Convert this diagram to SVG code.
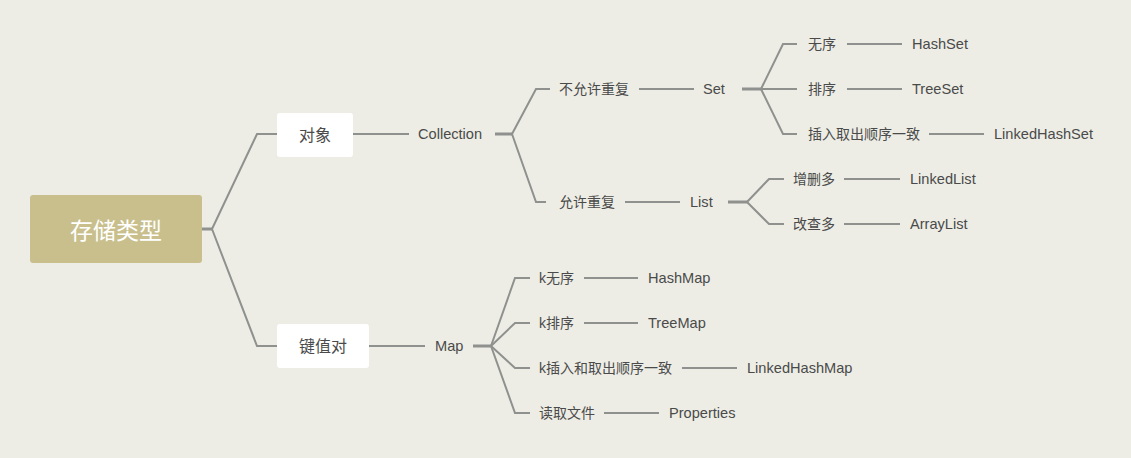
<svg xmlns="http://www.w3.org/2000/svg" width="1131" height="458" viewBox="0 0 1131 458">
<style>
.t{font-family:"Liberation Sans","Noto Sans CJK SC",sans-serif;font-size:14px;fill:#4a4a4a;dominant-baseline:central}
.e{font-size:14.6px}
.b{font-size:16px;text-anchor:middle}
.r{font-family:"Noto Sans CJK SC",sans-serif;font-size:23px;fill:#ffffff;text-anchor:middle;dominant-baseline:central}
.l{fill:none;stroke:#8f918e;stroke-width:2;stroke-linejoin:miter}
.s{fill:none;stroke:#8f918e;stroke-width:3}
</style>
<rect width="1131" height="458" fill="#ededE5"/>
<g id="connectors">
<line class="s" x1="202" y1="229" x2="213" y2="229"/>
<polyline class="l" points="212,229 257,134 277,134"/>
<polyline class="l" points="212,229 257,346 277,346"/>
<line class="l" x1="353" y1="134" x2="409" y2="134"/>
<line class="l" x1="369" y1="346" x2="425" y2="346"/>
<line class="s" x1="495" y1="134" x2="513" y2="134"/>
<polyline class="l" points="512,134 536,89 550,89"/>
<polyline class="l" points="512,134 536,202 546,202"/>
<line class="l" x1="639" y1="89" x2="694" y2="89"/>
<line class="l" x1="625" y1="202" x2="680" y2="202"/>
<line class="s" x1="742" y1="89" x2="762" y2="89"/>
<polyline class="l" points="761,89 783,44 797,44"/>
<line class="l" x1="761" y1="89" x2="797" y2="89"/>
<polyline class="l" points="761,89 783,134 797,134"/>
<line class="l" x1="847" y1="44" x2="902" y2="44"/>
<line class="l" x1="847" y1="89" x2="902" y2="89"/>
<line class="l" x1="929" y1="134" x2="984" y2="134"/>
<line class="s" x1="728" y1="202" x2="748" y2="202"/>
<polyline class="l" points="747,202 769,179 784,179"/>
<polyline class="l" points="747,202 769,224 784,224"/>
<line class="l" x1="844" y1="179" x2="900" y2="179"/>
<line class="l" x1="844" y1="224" x2="900" y2="224"/>
<line class="s" x1="473" y1="346" x2="492" y2="346"/>
<polyline class="l" points="491,346 515,278 530,278"/>
<polyline class="l" points="491,346 515,323 530,323"/>
<polyline class="l" points="491,346 515,368 530,368"/>
<polyline class="l" points="491,346 515,413 530,413"/>
<line class="l" x1="584" y1="278" x2="638" y2="278"/>
<line class="l" x1="584" y1="323" x2="638" y2="323"/>
<line class="l" x1="682" y1="368" x2="737" y2="368"/>
<line class="l" x1="604" y1="413" x2="659" y2="413"/>
</g>
<g id="root"><rect x="30" y="195" width="172" height="68" rx="3" fill="#c9bf8d"/><text class="r" x="116" y="229">存储类型</text></g>
<g id="n-objects"><rect x="277" y="113" width="76" height="44" rx="3" fill="#ffffff"/><text class="t b" x="315" y="135">对象</text></g>
<g id="n-kv"><rect x="277" y="324" width="92" height="44" rx="3" fill="#ffffff"/><text class="t b" x="323" y="346">键值对</text></g>
<g id="n-collection"><text class="t e" x="418" y="134">Collection</text></g>
<g id="n-norepeat"><text class="t" x="559" y="89">不允许重复</text></g>
<g id="n-set"><text class="t e" x="703" y="89">Set</text></g>
<g id="n-unordered"><text class="t" x="808" y="44">无序</text></g>
<g id="n-hashset"><text class="t e" x="912" y="44">HashSet</text></g>
<g id="n-sorted"><text class="t" x="808" y="89">排序</text></g>
<g id="n-treeset"><text class="t e" x="912" y="89">TreeSet</text></g>
<g id="n-insertorder"><text class="t" x="808" y="134">插入取出顺序一致</text></g>
<g id="n-linkedhashset"><text class="t e" x="994" y="134">LinkedHashSet</text></g>
<g id="n-repeat"><text class="t" x="559" y="202">允许重复</text></g>
<g id="n-list"><text class="t e" x="690" y="202">List</text></g>
<g id="n-adddel"><text class="t" x="793" y="179">增删多</text></g>
<g id="n-linkedlist"><text class="t e" x="910" y="179">LinkedList</text></g>
<g id="n-modquery"><text class="t" x="793" y="224">改查多</text></g>
<g id="n-arraylist"><text class="t e" x="910" y="224">ArrayList</text></g>
<g id="n-map"><text class="t e" x="435" y="346">Map</text></g>
<g id="n-kunordered"><text class="t" x="539" y="278">k无序</text></g>
<g id="n-hashmap"><text class="t e" x="648" y="278">HashMap</text></g>
<g id="n-ksorted"><text class="t" x="539" y="323">k排序</text></g>
<g id="n-treemap"><text class="t e" x="648" y="323">TreeMap</text></g>
<g id="n-kinsert"><text class="t" x="539" y="368">k插入和取出顺序一致</text></g>
<g id="n-linkedhashmap"><text class="t e" x="747" y="368">LinkedHashMap</text></g>
<g id="n-readfile"><text class="t" x="539" y="413">读取文件</text></g>
<g id="n-properties"><text class="t e" x="669" y="413">Properties</text></g>
</svg>
